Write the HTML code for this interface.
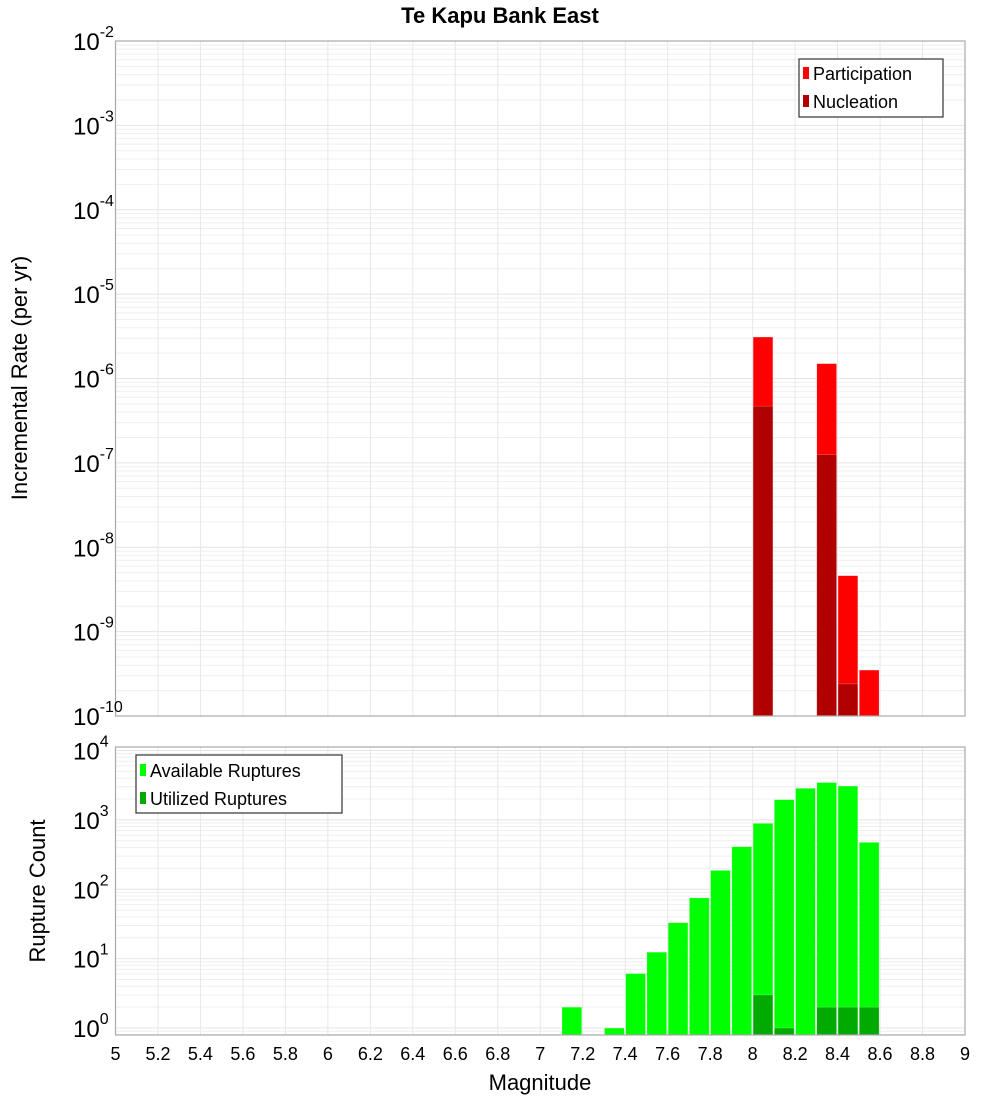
<!DOCTYPE html>
<html><head><meta charset="utf-8"><style>
body{margin:0;background:#fff;}
svg{display:block;font-family:"Liberation Sans","DejaVu Sans",sans-serif;}
</style></head><body>
<svg id="chart" width="1000" height="1100" xmlns="http://www.w3.org/2000/svg">
<text x="500" y="23" text-anchor="middle" font-size="22" font-weight="bold">Te Kapu Bank East</text>
<g id="topPanel"></g>
<g id="botPanel"></g>
<text transform="translate(27,378) rotate(-90)" text-anchor="middle" font-size="22">Incremental Rate (per yr)</text>
<text transform="translate(45,891) rotate(-90)" text-anchor="middle" font-size="22">Rupture Count</text>
<text x="540" y="1090" text-anchor="middle" font-size="22">Magnitude</text>
<g>
<rect x="799" y="59" width="144" height="58" fill="#fff" stroke="#333" stroke-width="1.2"/>
<rect x="803" y="67" width="6" height="12" fill="#ff0000"/>
<text x="813" y="80" font-size="18">Participation</text>
<rect x="803" y="95" width="6" height="12" fill="#b00000"/>
<text x="813" y="108" font-size="18">Nucleation</text>
</g>
<g>
<rect x="136" y="755" width="206" height="58" fill="#fff" stroke="#333" stroke-width="1.2"/>
<rect x="140" y="764" width="6" height="12" fill="#00ff00"/>
<text x="150" y="777" font-size="18">Available Ruptures</text>
<rect x="140" y="792" width="6" height="12" fill="#00aa00"/>
<text x="150" y="805" font-size="18">Utilized Ruptures</text>
</g>
</svg>
<script>
const magBins=[7.15,7.25,7.35,7.45,7.55,7.65,7.75,7.85,7.95,8.05,8.15,8.25,8.35,8.45,8.55];
const available=[2,0,1,6.1,12.4,33,75,187,410,890,1950,2850,3450,3070,474];
const utilized=[0,0,0,0,0,0,0,0,0,3,1,0,2,2,2];
const rateBins=[8.05,8.35,8.45,8.55];
const participation=[3.1e-6,1.5e-6,4.6e-9,3.5e-10];
const nucleation=[4.7e-7,1.25e-7,2.4e-10,0];
const xTicks=["5","5.2","5.4","5.6","5.8","6","6.2","6.4","6.6","6.8","7","7.2","7.4","7.6","7.8","8","8.2","8.4","8.6","8.8","9"];
const topExps=[-2,-3,-4,-5,-6,-7,-8,-9,-10];
const botExps=[0,1,2,3,4];

const NS="http://www.w3.org/2000/svg";
const X0=115.5,X1=965;
const xs=m=>X0+(m-5)/4*(X1-X0);
const TY0=41,TY1=716;
const ty=v=>TY1-(Math.log10(v)+10)/8*(TY1-TY0);
const BY0=747,BY1=1035;
const by=v=>BY1-(Math.log10(v)+0.1)/4.15*(BY1-BY0);
function mk(p,tag,a){const e=document.createElementNS(NS,tag);for(const k in a)e.setAttribute(k,a[k]);p.appendChild(e);return e;}

function panel(g,y0,y1,yf,lo,hi,name){
  mk(g,'rect',{x:X0,y:y0,width:X1-X0,height:y1-y0,fill:'#fff'});
  for(let d=lo;d<hi;d++)for(let k=1;k<10;k++){const v=k*Math.pow(10,d);const y=yf(v);if(y<y0||y>y1)continue;
    const l=mk(g,'line',{x1:X0,x2:X1,y1:y,y2:y,stroke:k==1?'#e4e4e4':'#efefef','stroke-width':1});
    
    }
  xTicks.forEach(t=>{const x=xs(+t);const l=mk(g,'line',{x1:x,x2:x,y1:y0,y2:y1,stroke:'#e8e8e8'});
    
    });
}
function bar(g,m,v,yf,yb,fill,name){
  if(!v)return;const x=xs(m-0.05)+0.5,w=xs(m+0.05)-xs(m-0.05)-1.5;const y=yf(v);
  const r=mk(g,'rect',{x:x,y:y,width:w,height:yb-y,fill:fill,stroke:'rgba(255,255,255,0.4)','stroke-width':0.5});
  
  
}
function ylab(g,e,y,name){
  const t=mk(g,'text',{x:73,y:y+9,'font-size':24});t.textContent='10';
  
  
  const s=mk(g,'tspan',{dy:-13,'font-size':16});s.textContent=String(e);t.appendChild(s);
}
const gTop=document.getElementById('topPanel'),gBot=document.getElementById('botPanel');
panel(gTop,TY0,TY1,ty,-10,-1,'top');
rateBins.forEach((m,i)=>bar(gTop,m,participation[i],ty,TY1,'#ff0000','participation-bar'));
rateBins.forEach((m,i)=>bar(gTop,m,nucleation[i],ty,TY1,'#b00000','nucleation-bar'));
mk(gTop,'rect',{x:X0,y:TY0,width:X1-X0,height:TY1-TY0,fill:'none',stroke:'#aaa','stroke-width':1.2});
topExps.forEach(e=>ylab(gTop,e,ty(Math.pow(10,e)),'top-y-tick-label'));
panel(gBot,BY0,BY1,by,-1,5,'bottom');
magBins.forEach((m,i)=>bar(gBot,m,available[i],by,BY1,'#00ff00','available-bar'));
magBins.forEach((m,i)=>bar(gBot,m,utilized[i],by,BY1,'#00aa00','utilized-bar'));
mk(gBot,'rect',{x:X0,y:BY0,width:X1-X0,height:BY1-BY0,fill:'none',stroke:'#aaa','stroke-width':1.2});
botExps.forEach(e=>ylab(gBot,e,by(Math.pow(10,e)),'bottom-y-tick-label'));
xTicks.forEach(t=>{const l=mk(gBot,'text',{x:xs(+t),y:1060,'text-anchor':'middle','font-size':18});l.textContent=t;
  
  });
</script>
</body></html>
